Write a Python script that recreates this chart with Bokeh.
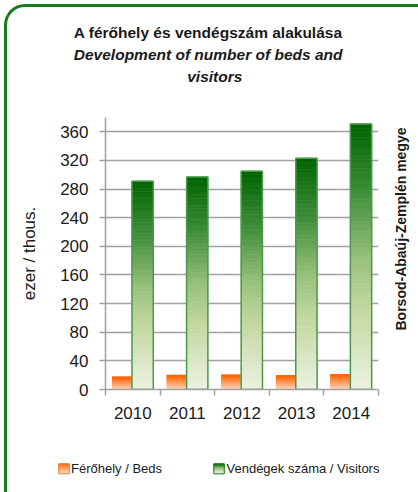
import math
from bokeh.plotting import figure
from bokeh.layouts import column
from bokeh.models import Range1d, FixedTicker, Title, LinearAxis
from bokeh.core.properties import value
from bokeh.embed import file_html
from bokeh.resources import INLINE

# ---------------- data ----------------
years = ["2010", "2011", "2012", "2013", "2014"]
beds = [17.6, 20.0, 20.4, 19.5, 21.0]           # Férőhely / Beds (ezer)
visitors = [291, 297, 305, 323, 371]            # Vendégek száma / Visitors (ezer)
y_ticks = [0, 40, 80, 120, 160, 200, 240, 280, 320, 360]
title_hu = "A férőhely és vendégszám alakulása"
title_en_1 = "Development of number of beds and"
title_en_2 = "visitors"
y_title = "ezer / thous."
region = "Borsod-Abaúj-Zemplén megye"
series_names = ["Férőhely / Beds", "Vendégek száma / Visitors"]

# ---------------- layout constants ----------------
W = 411
FL, FT, FW, FH = 98, 110, 273, 272
MAIN_BOTTOM = 58
LEG_H = 45
Y_MAX = 380
REGION_LABEL_AT = 82.4      # where the side label starts, in axis units
FONT = "Liberation Sans"
GRID = "#a0a0a0"
TXT = "#1a1a1a"
# legend strip geometry (pixels inside the strip)
SW_X = [51.3, 206.3]        # swatch left edges
SW_W = 10.5
SW_Y = (16.3, 26.3)         # swatch top / bottom
LBL_X = [63.5, 219.0]
LBL_Y = 21.3

p = figure(frame_width=FW, frame_height=FH, output_backend="svg", toolbar_location=None,
           x_range=Range1d(0, len(years)), y_range=Range1d(0, Y_MAX),
           min_border_left=FL, min_border_top=FT,
           min_border_right=W - FL - FW, min_border_bottom=MAIN_BOTTOM)
p.outline_line_color = None
p.background_fill_color = "white"
p.border_fill_alpha = 0

# axes
p.xaxis.ticker = FixedTicker(ticks=[i + 0.5 for i in range(len(years))],
                             minor_ticks=list(range(len(years) + 1)))
p.xaxis.major_label_overrides = {i + 0.5: y for i, y in enumerate(years)}
p.xaxis.major_tick_line_color = None
p.xaxis.major_tick_out = 0
p.xaxis.major_tick_in = 0
p.xaxis.minor_tick_out = 6
p.xaxis.minor_tick_in = 0
p.xaxis.minor_tick_line_color = GRID
p.xaxis.minor_tick_line_width = 1.5
p.xaxis.major_label_standoff = 11
p.yaxis.ticker = FixedTicker(ticks=y_ticks)
p.yaxis.major_tick_out = 6
p.yaxis.major_tick_in = 0
p.yaxis.major_tick_line_color = GRID
p.yaxis.major_tick_line_width = 1.5
p.yaxis.minor_tick_line_color = None
p.yaxis.major_label_standoff = 11
p.yaxis.axis_label = y_title
p.yaxis.axis_label_standoff = 18
p.yaxis.axis_label_text_font = FONT
p.yaxis.axis_label_text_font_size = "17px"
p.yaxis.axis_label_text_font_style = "normal"
p.yaxis.axis_label_text_color = TXT
for ax in (p.xaxis, p.yaxis):
    ax.axis_line_color = GRID
    ax.axis_line_width = 1.5
    ax.major_label_text_font = FONT
    ax.major_label_text_font_size = "17px"
    ax.major_label_text_color = TXT
p.xgrid.grid_line_color = None
p.ygrid.grid_line_color = GRID
p.ygrid.grid_line_width = 1.5

# right-hand region label (a single rotated tick label reading bottom-to-top)
rax = LinearAxis(ticker=FixedTicker(ticks=[REGION_LABEL_AT]),
                 major_label_overrides={REGION_LABEL_AT: region},
                 major_label_orientation=math.pi / 2,
                 axis_line_color=None, major_tick_line_color=None,
                 minor_tick_line_color=None, major_tick_out=0, major_tick_in=0,
                 major_label_standoff=23,
                 major_label_text_font=FONT, major_label_text_font_size="14px",
                 major_label_text_font_style="bold", major_label_text_color=TXT)
p.add_layout(rax, "right")


def lerp_stops(stops, f):
    for (p0, c0), (p1, c1) in zip(stops[:-1], stops[1:]):
        if p0 <= f <= p1:
            t = (f - p0) / (p1 - p0) if p1 > p0 else 0
            return "#%02x%02x%02x" % tuple(int(round(a + (b - a) * t)) for a, b in zip(c0, c1))
    return "#%02x%02x%02x" % stops[-1][1]

# gradient stops from top (0) to bottom (1)
orange_stops = [(0.0, (255, 100, 0)), (0.5, (255, 160, 100)), (1.0, (255, 222, 200))]
green_stops = [(0.0, (0, 100, 0)), (0.25, (60, 140, 55)), (0.5, (150, 192, 122)),
               (0.7, (196, 216, 162)), (1.0, (236, 242, 226))]

N = 60
segs = dict(left=[], right=[], bottom=[], top=[], color=[])
ol, orr, gl, gr = -0.375, -0.015, -0.015, 0.375
for i in range(len(years)):
    c = i + 0.5
    for val, l, r, stops in ((beds[i], ol, orr, orange_stops),
                             (visitors[i], gl, gr, green_stops)):
        for k in range(N):
            f = 1 - (k + 0.5) / N
            segs["left"].append(c + l)
            segs["right"].append(c + r)
            segs["bottom"].append(val * k / N)
            segs["top"].append(val * (k + 1) / N)
            segs["color"].append(lerp_stops(stops, f))

p.quad(left="left", right="right", bottom="bottom", top="top", source=segs,
       fill_color="color", line_color="color", line_width=0.6)
p.quad(left=[i + 0.5 + gl for i in range(len(years))],
       right=[i + 0.5 + gr for i in range(len(years))],
       bottom=0, top=visitors, fill_color=None,
       line_color="#4a9a4a", line_width=1.5)

# titles (first added sits closest to the plot)
p.add_layout(Title(text=" ", text_font_size="10px", standoff=18), "above")
p.add_layout(Title(text=title_en_2, text_font=FONT, text_font_size="15.5px",
                   text_font_style="bold italic", align="left", offset=81.7,
                   standoff=3, text_color=TXT), "above")
p.add_layout(Title(text=title_en_1, text_font=FONT, text_font_size="15.5px",
                   text_font_style="bold italic", align="left", offset=-31.7,
                   standoff=3, text_color=TXT), "above")
p.add_layout(Title(text=title_hu, text_font=FONT, text_font_size="15.5px",
                   text_font_style="bold", align="left", offset=-31.7,
                   standoff=3, text_color=TXT), "above")

# ---------------- legend strip (pixel space, y downwards) ----------------
leg = figure(width=W, height=LEG_H, output_backend="svg", toolbar_location=None,
             x_range=Range1d(0, W), y_range=Range1d(LEG_H, 0), min_border=0,
             x_axis_type=None, y_axis_type=None)
try:
    leg.frame_align = False
except Exception:
    pass
try:
    p.frame_align = False
except Exception:
    pass
leg.outline_line_color = None
leg.background_fill_alpha = 0
leg.border_fill_alpha = 0

sw = dict(left=[], right=[], top=[], bottom=[], color=[])
nst = 8
for x0, stops in zip(SW_X, (orange_stops, green_stops)):
    for k in range(nst):
        y0 = SW_Y[0] + (SW_Y[1] - SW_Y[0]) * k / nst
        y1 = SW_Y[0] + (SW_Y[1] - SW_Y[0]) * (k + 1) / nst
        sw["left"].append(x0)
        sw["right"].append(x0 + SW_W)
        sw["top"].append(y0)
        sw["bottom"].append(y1)
        sw["color"].append(lerp_stops(stops, (k + 0.5) / nst))
leg.quad(left="left", right="right", top="top", bottom="bottom", source=sw,
         fill_color="color", line_color="color", line_width=0.5)
leg.quad(left=SW_X, right=[x + SW_W for x in SW_X], top=SW_Y[0], bottom=SW_Y[1],
         fill_color=None, line_color=["#ff7a2a", "#1f7a1f"], line_width=1)
leg.text(x=LBL_X, y=[LBL_Y] * 2, text=series_names, text_font=value(FONT),
         text_font_size="13px", text_baseline="middle", text_align="left",
         text_color=TXT)

layout = column(p, leg, spacing=0)
layout.styles = {"margin-left": "4px", "margin-top": "4px",
                 "border-top": "3px solid #187a18", "border-left": "3px solid #187a18",
                 "border-top-left-radius": "21px"}

open("out.html", "w").write(file_html(layout, INLINE))
